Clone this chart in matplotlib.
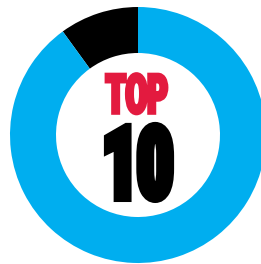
import matplotlib
matplotlib.use("Agg")
import matplotlib.pyplot as plt
from matplotlib.patheffects import AbstractPathEffect
from matplotlib.transforms import Affine2D

# donut shares (black slice first, counter-clockwise from 12 o'clock)
labels = ["Top 10", "Rest"]
shares = [10, 90]
colors = ["#000000", "#00AEEF"]

title_top = "TOP"
title_num = "10"


class Condensed(AbstractPathEffect):
    """Narrow text around its own centre and thicken it (poster-style type)."""

    def __init__(self, sx, lw):
        super().__init__()
        self.sx = sx
        self.lw = lw

    def draw_path(self, renderer, gc, tpath, affine, rgbFace=None):
        ext = tpath.transformed(affine).get_extents()
        cx = (ext.x0 + ext.x1) / 2
        squeeze = affine + Affine2D().translate(-cx, 0).scale(self.sx, 1).translate(cx, 0)
        gc0 = renderer.new_gc()
        gc0.copy_properties(gc)
        gc0.set_foreground(rgbFace)
        gc0.set_linewidth(self.lw)
        gc0.set_joinstyle("miter")
        renderer.draw_path(gc0, tpath, squeeze, rgbFace)
        gc0.restore()


fig = plt.figure(figsize=(2.61, 2.64), dpi=100)
ax = fig.add_axes([0, 0, 1, 1])

ax.pie(shares, colors=colors, startangle=90, counterclock=True,
       center=(138, 129), radius=128,
       wedgeprops=dict(width=46, linewidth=0))
ax.set_xlim(0, 261); ax.set_ylim(0, 264)
ax.set_aspect("equal"); ax.axis("off")

font = ["Roboto", "DejaVu Sans"]
ax.text(137, 151, title_top, ha="center", va="baseline", fontsize=39,
        fontweight="black", family=font, color="#E31A3F",
        path_effects=[Condensed(0.58, 2.6)])
ax.text(137, 66, title_num, ha="center", va="baseline", fontsize=72,
        fontweight="black", family=font, color="#000000",
        path_effects=[Condensed(0.6, 5.8)])

fig.savefig("out.png", dpi=100)
